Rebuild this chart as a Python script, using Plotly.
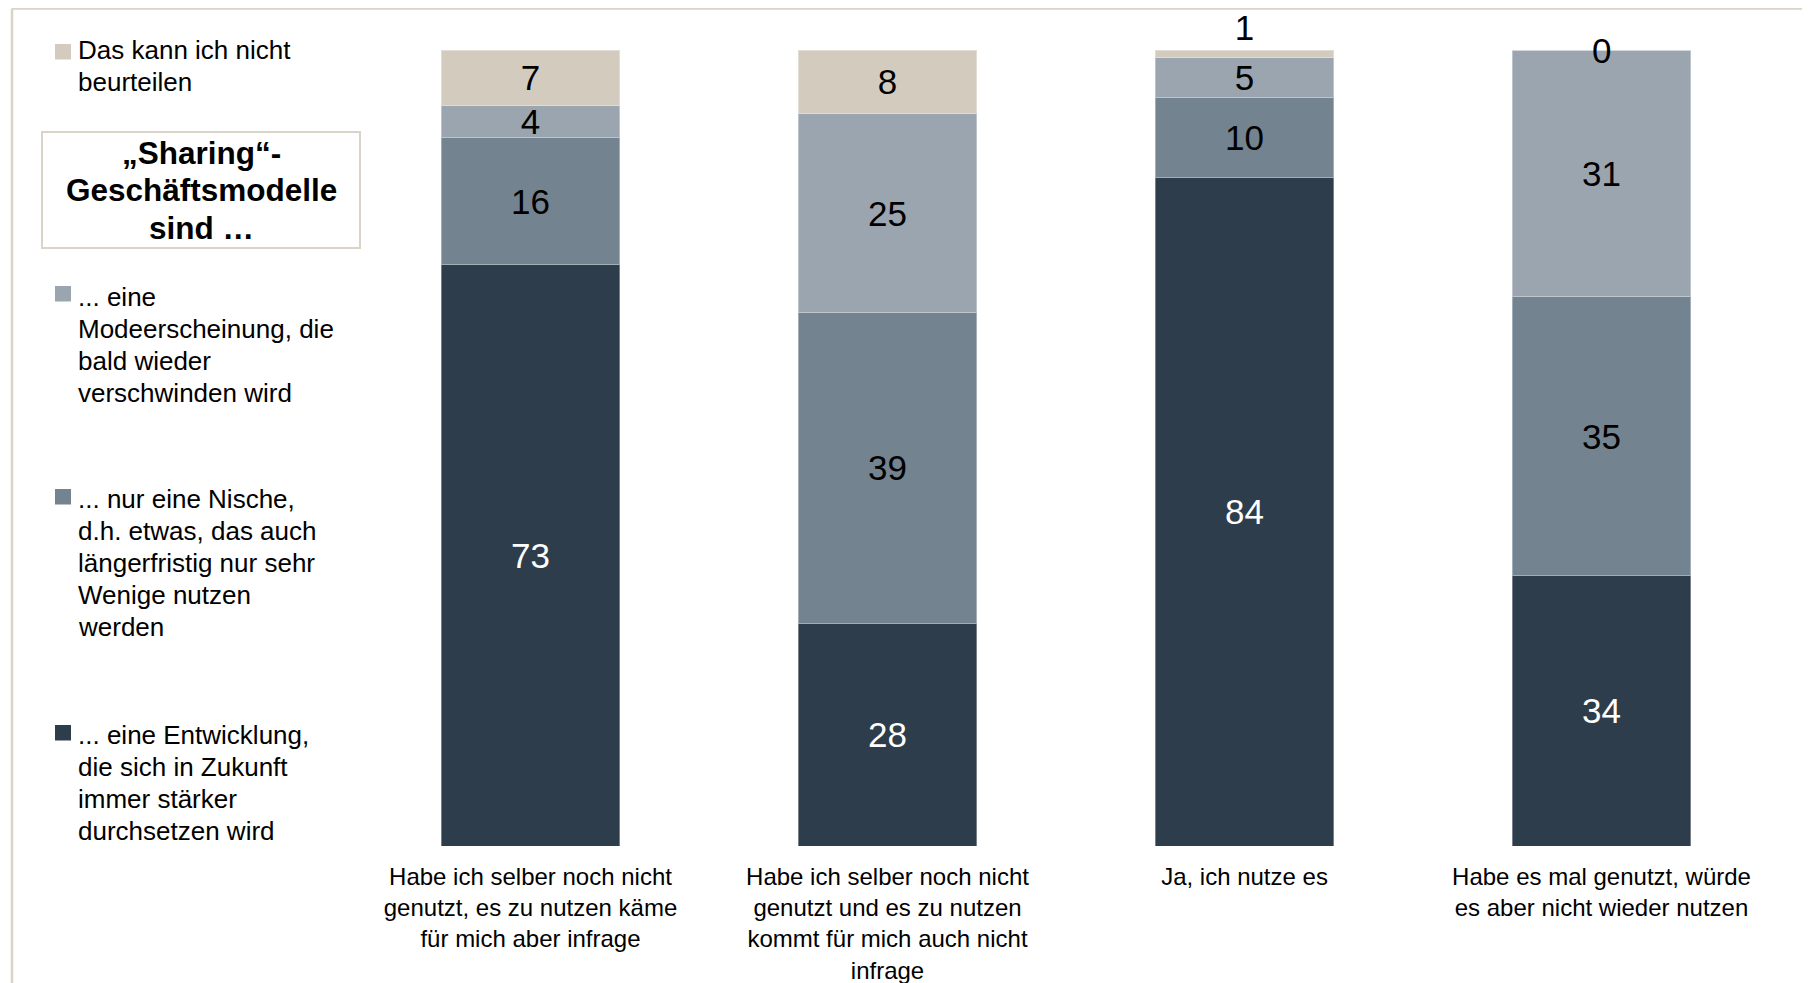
import plotly.graph_objects as go

# ---------------- data ----------------
categories = [
    "Habe ich selber noch nicht<br>genutzt, es zu nutzen käme<br>für mich aber infrage",
    "Habe ich selber noch nicht<br>genutzt und es zu nutzen<br>kommt für mich auch nicht<br>infrage",
    "Ja, ich nutze es",
    "Habe es mal genutzt, würde<br>es aber nicht wieder nutzen",
]
entwicklung = [73, 28, 84, 34]      # ... eine Entwicklung
nische = [16, 39, 10, 35]           # ... nur eine Nische
modeerscheinung = [4, 25, 5, 31]    # ... eine Modeerscheinung
nicht_beurteilen = [7, 8, 1, 0]     # Das kann ich nicht beurteilen

series_names = [
    ["... eine Entwicklung,", "die sich in Zukunft", "immer stärker", "durchsetzen wird"],
    ["... nur eine Nische,", "d.h. etwas, das auch", "längerfristig nur sehr", "Wenige nutzen", "werden"],
    ["... eine", "Modeerscheinung, die", "bald wieder", "verschwinden wird"],
    ["Das kann ich nicht", "beurteilen"],
]
legend_title = ["„Sharing“-", "Geschäftsmodelle", "sind …"]

# ---------------- style ----------------
FONT = "Liberation Sans, Arial, sans-serif"
colors = ["#2E3D4C", "#73838F", "#9BA5AF", "#D3CBBD"]
text_colors = ["white", "black", "black", "black"]
FRAME = "#D9D3C8"

OFF = 8                      # default page body margin
W, H = 1810 - OFF, 983 - OFF
L, R, T, B = 344, 30, 42, 137
PW, PH = W - L - R, H - T - B


def px_x(px):               # page pixel -> paper x
    return (px - OFF - L) / PW


def px_y(py):               # page pixel -> paper y
    return (H - B - (py - OFF)) / PH


fig = go.Figure()
all_series = [entwicklung, nische, modeerscheinung, nicht_beurteilen]
for i, vals in enumerate(all_series):
    is_top = i == len(all_series) - 1
    if is_top:
        positions = ["outside" if 0 < v < 3 else ("none" if v == 0 else "inside") for v in vals]
    else:
        positions = "inside"
    fig.add_trace(go.Bar(
        x=categories, y=vals, name=" ".join(series_names[i]),
        marker=dict(color=colors[i], line=dict(color="rgba(255,255,255,0.35)", width=1)),
        text=[str(v) for v in vals], textposition=positions,
        insidetextanchor="middle", textangle=0, constraintext="none",
        insidetextfont=dict(family=FONT, size=35, color=text_colors[i]),
        outsidetextfont=dict(family=FONT, size=35, color="black"),
        cliponaxis=False, showlegend=False, hoverinfo="skip",
    ))

annotations = []
for j, v in enumerate(nicht_beurteilen):
    if v == 0:
        total = sum(s[j] for s in all_series)
        annotations.append(dict(x=categories[j], y=total, xref="x", yref="y",
                                text=str(v), showarrow=False, yanchor="middle",
                                font=dict(family=FONT, size=35, color="black")))

shapes = []
# outer frame (top and left edges visible)
shapes.append(dict(type="line", xref="paper", yref="paper",
                   x0=px_x(12), x1=px_x(1815), y0=px_y(8.6), y1=px_y(8.6),
                   line=dict(color=FRAME, width=2.5)))
shapes.append(dict(type="line", xref="paper", yref="paper",
                   x0=px_x(12), x1=px_x(12), y0=px_y(8.6), y1=px_y(990),
                   line=dict(color=FRAME, width=2.5)))

# custom legend: (series index, marker top px, first line centre px)
legend_items = [
    (3, 44, 50),
    (2, 286, 297),
    (1, 489, 499),
    (0, 725, 735),
]
LINE_STEP = 32
for idx, mtop, first in legend_items:
    shapes.append(dict(type="rect", xref="paper", yref="paper",
                       x0=px_x(55), x1=px_x(71), y0=px_y(mtop), y1=px_y(mtop + 15.5),
                       fillcolor=colors[idx], line=dict(width=0)))
    for k, line in enumerate(series_names[idx]):
        annotations.append(dict(x=px_x(76), y=px_y(first + k * LINE_STEP),
                                xref="paper", yref="paper",
                                xanchor="left", yanchor="middle", align="left",
                                text=line, showarrow=False,
                                font=dict(family=FONT, size=26, color="black")))

# title box
shapes.append(dict(type="rect", xref="paper", yref="paper",
                   x0=px_x(42), x1=px_x(360), y0=px_y(132), y1=px_y(248),
                   fillcolor="white", line=dict(color=FRAME, width=2)))
for k, line in enumerate(legend_title):
    annotations.append(dict(x=px_x(201), y=px_y(153 + k * 37.5), xref="paper", yref="paper",
                            xanchor="center", yanchor="middle", align="center",
                            text="<b>" + line + "</b>", showarrow=False,
                            font=dict(family=FONT, size=31.5, color="black")))

fig.update_layout(
    template="none",
    width=W, height=H,
    margin=dict(l=L, r=R, t=T, b=B, pad=0),
    barmode="stack", bargap=0.5,
    plot_bgcolor="white", paper_bgcolor="white",
    font=dict(family=FONT, color="black"),
    xaxis=dict(showline=False, showgrid=False, zeroline=False, ticks="",
               automargin=False,
               tickfont=dict(family=FONT, size=24, color="black"),
               ticklabelstandoff=14, fixedrange=True),
    yaxis=dict(range=[0, 100], visible=False, automargin=False, fixedrange=True),
    shapes=shapes, annotations=annotations,
    showlegend=False,
)

fig.write_html("out.html")
